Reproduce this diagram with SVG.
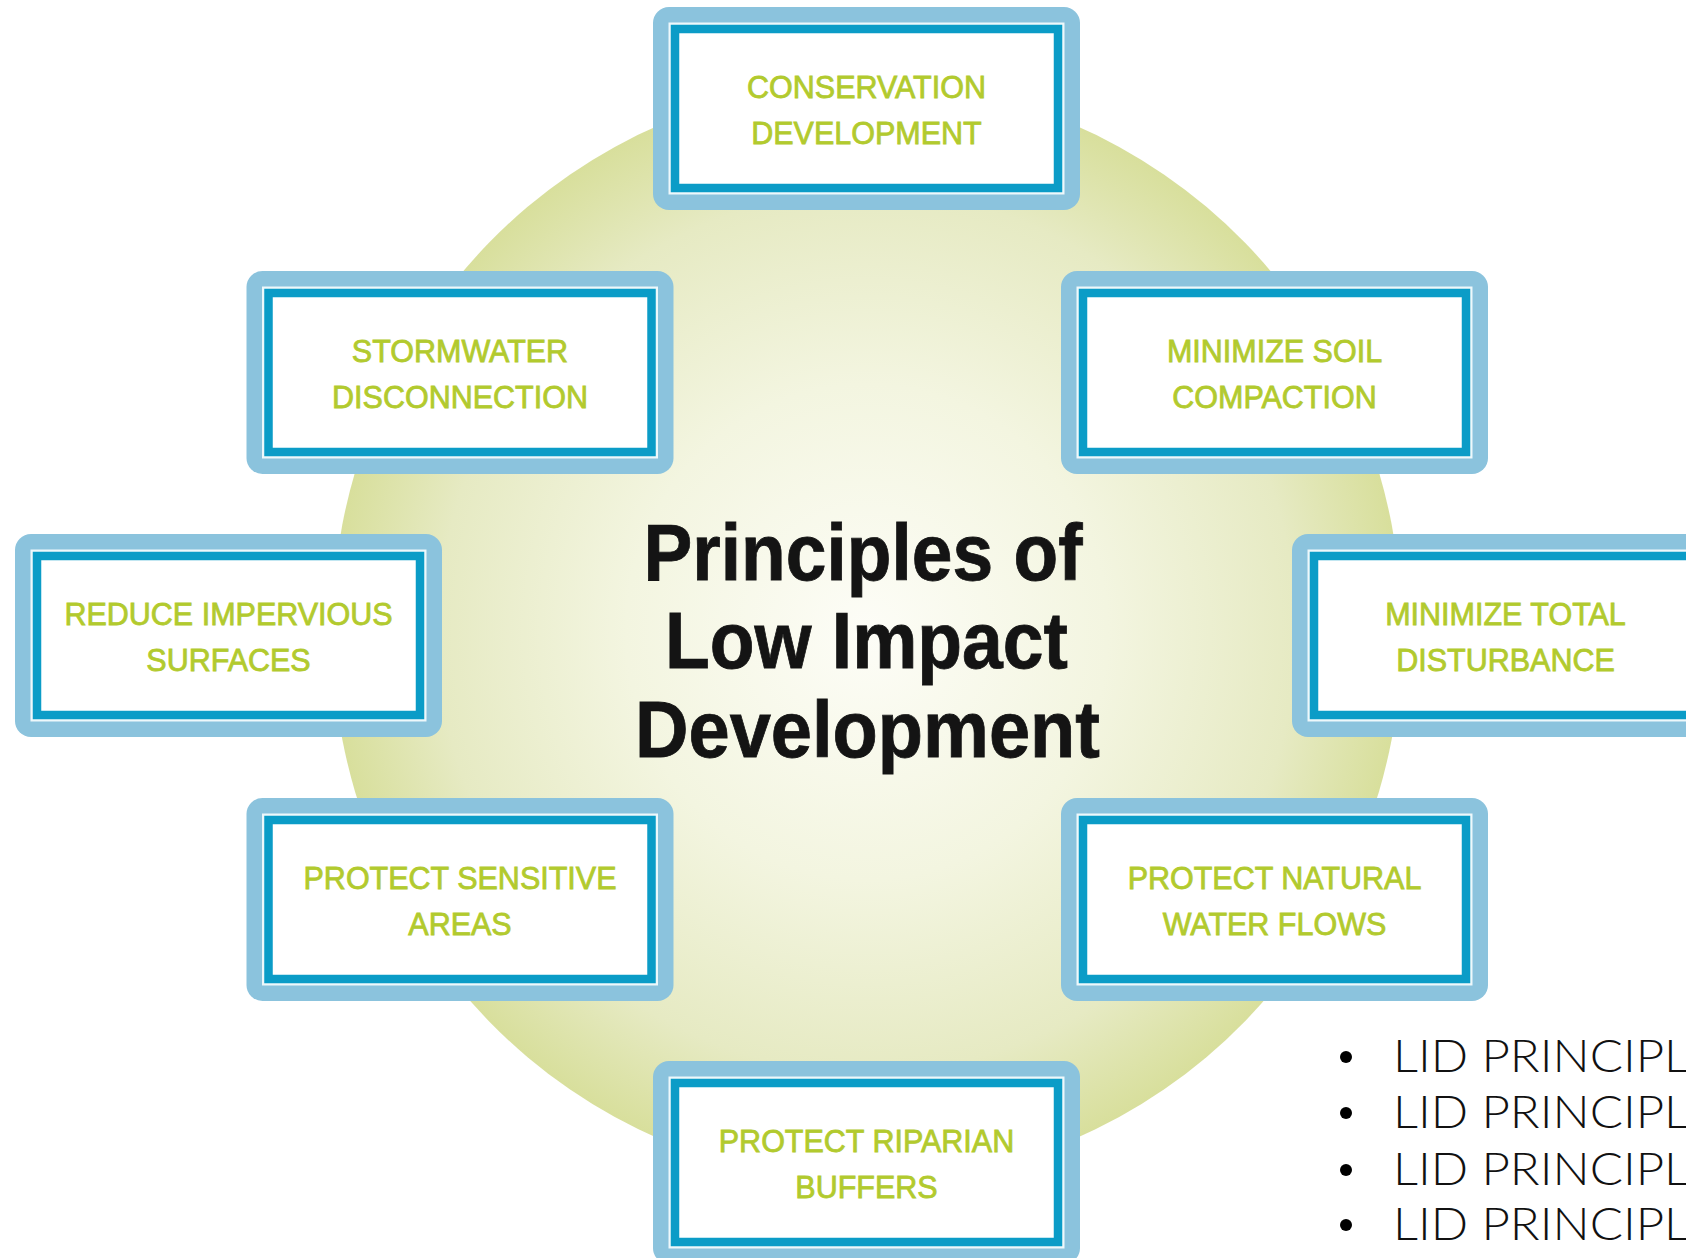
<svg xmlns="http://www.w3.org/2000/svg" width="1686" height="1258" viewBox="0 0 1686 1258">
<style>
.frame{fill:#8bc3dd}
.gap{fill:#eef8fb}
.band{fill:#ffffff;stroke:#0b9cc7;stroke-width:8.5}
.lbl{font-family:"Liberation Sans",Arial,sans-serif;font-size:30.5px;fill:#b2ca2e;stroke:#b2ca2e;stroke-width:0.8;text-anchor:middle}
.title{font-family:"Liberation Sans",Arial,sans-serif;font-weight:bold;font-size:79px;fill:#141414;stroke:#141414;stroke-width:0.8;text-anchor:middle}
.bul{font-family:Lato,"Open Sans","Noto Sans",sans-serif;font-weight:300;font-size:46px;fill:#111111}
</style>
<defs>
<radialGradient id="glow" cx="0.5" cy="0.5" r="0.5">
<stop offset="0" stop-color="#fdfdf7"/>
<stop offset="0.45" stop-color="#f3f5e0"/>
<stop offset="0.8" stop-color="#e6eac3"/>
<stop offset="1" stop-color="#d8df9c"/>
</radialGradient>
</defs>
<rect width="1686" height="1258" fill="#ffffff"/>
<g id="background">
<ellipse cx="867" cy="632" rx="535" ry="550" fill="url(#glow)"/>
</g>
<g id="connectors"/>
<g id="node-conservation">
<rect class="frame" x="653" y="7" width="427" height="203" rx="16"/>
<rect class="gap" x="668.5" y="22.5" width="396" height="172"/>
<rect class="band" x="675" y="29" width="383" height="159"/>
<text class="lbl" x="866.5" y="98">CONSERVATION</text>
<text class="lbl" x="866.5" y="144">DEVELOPMENT</text>
</g>
<g id="node-stormwater">
<rect class="frame" x="246.5" y="271" width="427" height="203" rx="16"/>
<rect class="gap" x="262" y="286.5" width="396" height="172"/>
<rect class="band" x="268.5" y="293" width="383" height="159"/>
<text class="lbl" x="460" y="362">STORMWATER</text>
<text class="lbl" x="460" y="408">DISCONNECTION</text>
</g>
<g id="node-soil">
<rect class="frame" x="1061" y="271" width="427" height="203" rx="16"/>
<rect class="gap" x="1076.5" y="286.5" width="396" height="172"/>
<rect class="band" x="1083" y="293" width="383" height="159"/>
<text class="lbl" x="1274.5" y="362">MINIMIZE SOIL</text>
<text class="lbl" x="1274.5" y="408">COMPACTION</text>
</g>
<g id="node-impervious">
<rect class="frame" x="15" y="534" width="427" height="203" rx="16"/>
<rect class="gap" x="30.5" y="549.5" width="396" height="172"/>
<rect class="band" x="37" y="556" width="383" height="159"/>
<text class="lbl" x="228.5" y="625">REDUCE IMPERVIOUS</text>
<text class="lbl" x="228.5" y="671">SURFACES</text>
</g>
<g id="node-disturbance">
<rect class="frame" x="1292" y="534" width="427" height="203" rx="16"/>
<rect class="gap" x="1307.5" y="549.5" width="396" height="172"/>
<rect class="band" x="1314" y="556" width="383" height="159"/>
<text class="lbl" x="1505.5" y="625">MINIMIZE TOTAL</text>
<text class="lbl" x="1505.5" y="671">DISTURBANCE</text>
</g>
<g id="node-sensitive">
<rect class="frame" x="246.5" y="798" width="427" height="203" rx="16"/>
<rect class="gap" x="262" y="813.5" width="396" height="172"/>
<rect class="band" x="268.5" y="820" width="383" height="159"/>
<text class="lbl" x="460" y="889">PROTECT SENSITIVE</text>
<text class="lbl" x="460" y="935">AREAS</text>
</g>
<g id="node-waterflows">
<rect class="frame" x="1061" y="798" width="427" height="203" rx="16"/>
<rect class="gap" x="1076.5" y="813.5" width="396" height="172"/>
<rect class="band" x="1083" y="820" width="383" height="159"/>
<text class="lbl" x="1274.5" y="889">PROTECT NATURAL</text>
<text class="lbl" x="1274.5" y="935">WATER FLOWS</text>
</g>
<g id="node-riparian">
<rect class="frame" x="653" y="1061" width="427" height="203" rx="16"/>
<rect class="gap" x="668.5" y="1076.5" width="396" height="172"/>
<rect class="band" x="675" y="1083" width="383" height="159"/>
<text class="lbl" x="866.5" y="1152">PROTECT RIPARIAN</text>
<text class="lbl" x="866.5" y="1198">BUFFERS</text>
</g>
<g id="title">
<text class="title" x="863" y="580" textLength="439" lengthAdjust="spacingAndGlyphs">Principles of</text>
<text class="title" x="866.5" y="668" textLength="403" lengthAdjust="spacingAndGlyphs">Low Impact</text>
<text class="title" x="867.5" y="757" textLength="465" lengthAdjust="spacingAndGlyphs">Development</text>
</g>
<g id="bullets">
<circle cx="1346" cy="1057" r="6"/>
<circle cx="1346" cy="1113" r="6"/>
<circle cx="1346" cy="1170" r="6"/>
<circle cx="1346" cy="1225" r="6"/>
<text class="bul" x="1393" y="1072" textLength="296" lengthAdjust="spacingAndGlyphs">LID PRINCIPL</text>
<text class="bul" x="1393" y="1128" textLength="296" lengthAdjust="spacingAndGlyphs">LID PRINCIPL</text>
<text class="bul" x="1393" y="1185" textLength="296" lengthAdjust="spacingAndGlyphs">LID PRINCIPL</text>
<text class="bul" x="1393" y="1240" textLength="296" lengthAdjust="spacingAndGlyphs">LID PRINCIPL</text>
</g>
</svg>
